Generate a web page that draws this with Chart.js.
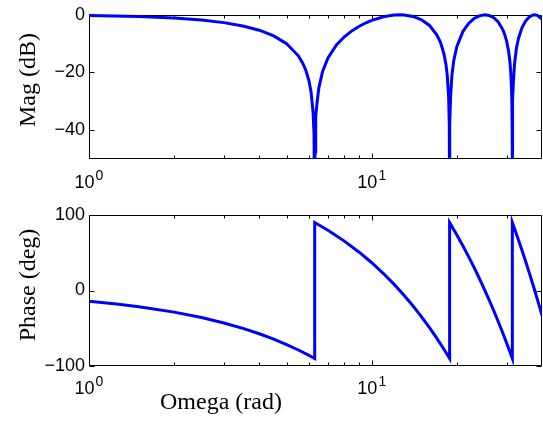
<!DOCTYPE html>
<html><head><meta charset="utf-8">
<script src="https://cdn.jsdelivr.net/npm/chart.js@4/dist/chart.umd.min.js"></script>
<style>
html,body{margin:0;padding:0;background:#fff;}
#wrap{position:relative;width:543px;height:421px;overflow:hidden;background:#fff;}
canvas{position:absolute;left:0;top:0;}
</style></head><body>
<div id="wrap"><canvas id="mag" width="543" height="421"></canvas><canvas id="phase" width="543" height="421"></canvas></div>
<script>
// ---- data ----
const magOmega = [1, 1.5, 2, 2.5, 3, 3.5, 4, 4.5, 5, 5.5, 5.7, 5.85, 6.0, 6.1, 6.2, 6.25, 6.27, 6.2832, 6.30, 6.32, 6.35, 6.4, 6.5, 6.7, 7, 7.5, 8, 8.5, 9, 9.5, 10, 11, 12, 12.566, 13, 14, 15, 16, 17, 17.5, 18, 18.3, 18.5, 18.7, 18.8, 18.83, 18.8496, 18.87, 18.9, 19, 19.2, 19.5, 20, 21, 22, 23, 24, 25.133, 26, 27, 28, 29, 29.5, 30, 30.5, 30.8, 31, 31.2, 31.3, 31.38, 31.416, 31.45, 31.55, 31.7, 32, 32.5, 33, 34, 35, 36, 37, 37.699, 38.5, 40];
const magDb = [-0.274, -0.626, -1.134, -1.820, -2.713, -3.863, -5.347, -7.307, -10.02, -14.22, -16.76, -19.32, -23.01, -26.79, -33.64, -41.62, -49.64, -80, -47.53, -40.72, -35.54, -30.69, -25.32, -19.66, -14.98, -10.47, -7.615, -5.575, -4.038, -2.852, -1.926, -0.684, -0.087, 0, -0.051, -0.570, -1.718, -3.693, -7.012, -9.568, -13.52, -17.26, -21.18, -28.55, -38.14, -46.22, -80, -45.83, -37.99, -28.49, -21.16, -15.82, -10.94, -5.813, -2.991, -1.298, -0.353, 0, -0.206, -0.983, -2.454, -4.942, -6.729, -9.202, -12.88, -16.27, -19.66, -25.36, -30.76, -40.93, -80, -41.39, -29.49, -22.98, -16.74, -11.44, -8.273, -4.408, -2.149, -0.808, -0.133, 0, -0.175, -1.524];
const phaseOmega = [1, 1.25, 1.5, 2, 2.5, 3, 3.5, 4, 4.5, 5, 5.5, 6, 6.2832, 6.2832, 7, 8, 9, 10, 11, 12, 13, 14, 15, 16, 17, 18, 18.8496, 18.8496, 20, 21, 22, 23, 24, 25, 26, 27, 28, 29, 30, 31, 31.416, 31.416, 32, 33, 34, 35, 36, 37, 38, 39, 40];
const phaseDeg = [-14.32, -17.90, -21.49, -28.65, -35.81, -42.97, -50.13, -57.30, -64.46, -71.62, -78.78, -85.94, -90, 90, 79.73, 65.41, 51.08, 36.76, 22.44, 8.11, -6.21, -20.53, -34.86, -49.18, -63.51, -77.83, -90, 90, 73.52, 59.20, 44.87, 30.55, 16.23, 1.90, -12.42, -26.75, -41.07, -55.39, -69.72, -84.04, -90, 90, 81.63, 67.31, 52.98, 38.66, 24.34, 10.01, -4.31, -18.63, -32.96];
const magTicks = [-40, -20, 0];
const phaseTicks = [-100, 0, 100];
const xMajorTicks = [1, 10];
const xTickBase = ['10', '10'];
const xTickExponents = ['0', '1'];
const xMinorTicks = [2, 3, 4, 5, 6, 7, 8, 9, 20, 30];
const magTitle = 'Mag (dB)';
const phaseTitle = 'Phase (deg)';
const xTitle = 'Omega (rad)';

const SANS = '"Liberation Sans", Arial, sans-serif';
const SERIF = '"Liberation Serif", "Times New Roman", serif';

const frame = {
  id: 'frame',
  beforeDatasetsDraw(chart, args, o) {
    const {ctx, chartArea: a, scales: {x, y}} = chart;
    ctx.save();
    ctx.strokeStyle = '#000';
    ctx.lineWidth = 1;
    const L = Math.round(a.left) + 0.5, R = Math.round(a.right) - 0.5;
    const T = Math.round(a.top) + 0.5, B = Math.round(a.bottom) - 0.5;
    ctx.beginPath();
    ctx.rect(L, T, R - L, B - T);
    xMajorTicks.forEach(v => {
      const px = Math.round(x.getPixelForValue(v)) + 0.5;
      ctx.moveTo(px, B); ctx.lineTo(px, B - 5);
      ctx.moveTo(px, T); ctx.lineTo(px, T + 5);
    });
    xMinorTicks.forEach(v => {
      const px = Math.round(x.getPixelForValue(v)) + 0.5;
      ctx.moveTo(px, B); ctx.lineTo(px, B - 3);
      ctx.moveTo(px, T); ctx.lineTo(px, T + 3);
    });
    o.yTicks.forEach(v => {
      const py = Math.round(y.getPixelForValue(v)) + 0.5;
      ctx.moveTo(L, py); ctx.lineTo(L + 5, py);
      ctx.moveTo(R, py); ctx.lineTo(R - 5, py);
    });
    ctx.stroke();

    // x tick labels with superscripts
    ctx.fillStyle = '#000';
    ctx.textAlign = 'left';
    ctx.textBaseline = 'alphabetic';
    const mainFont = '18px ' + SANS, supFont = '14px ' + SANS;
    xMajorTicks.forEach((v, i) => {
      const px = x.getPixelForValue(v);
      ctx.font = mainFont; const w1 = ctx.measureText(xTickBase[i]).width;
      ctx.font = supFont; const w2 = ctx.measureText(xTickExponents[i]).width;
      const start = px - (w1 + w2 + 1) / 2;
      const base = a.bottom + o.xLabelOffset;
      ctx.font = mainFont; ctx.fillText(xTickBase[i], start, base);
      ctx.font = supFont; ctx.fillText(xTickExponents[i], start + w1 + 1, base - 8);
    });

    // y title
    ctx.font = '24px ' + SERIF;
    ctx.save();
    ctx.translate(35, o.titleY);
    ctx.rotate(-Math.PI / 2);
    ctx.textAlign = 'center';
    ctx.fillText(o.title, 0, 0);
    ctx.restore();

    if (o.xTitle) {
      ctx.textAlign = 'center';
      ctx.fillText(o.xTitle, 221, 409);
    }
    ctx.restore();
  }
};

function makeChart(id, xs, ys, ticks, ymin, ymax, pad, opts) {
  return new Chart(document.getElementById(id), {
    type: 'line',
    data: {
      datasets: [{
        data: xs.map((w, i) => ({x: w, y: ys[i]})),
        borderColor: '#0000ff',
        borderWidth: 3,
        pointRadius: 0,
        fill: false,
        tension: 0,
        clip: {left: 0, right: 0, top: 3, bottom: 0}
      }]
    },
    options: {
      responsive: false,
      animation: false,
      events: [],
      layout: {padding: pad},
      plugins: {legend: {display: false}, tooltip: {enabled: false}, frame: opts},
      scales: {
        x: {type: 'logarithmic', min: 1, max: 40, display: false},
        y: {
          type: 'linear', min: ymin, max: ymax,
          grid: {display: false, drawTicks: false},
          border: {display: false},
          afterBuildTicks: s => { s.ticks = ticks.map(v => ({value: v})); },
          afterFit: s => { s.width = 89; },
          ticks: {
            color: '#000', padding: 4, autoSkip: false,
            font: {family: SANS, size: 18},
            callback: v => String(v).replace('-', '\u2212')
          }
        }
      }
    },
    plugins: [frame]
  });
}

makeChart('mag', magOmega, magDb, magTicks, -50, 0,
  {left: 0, right: 1, top: 9, bottom: 262},
  {yTicks: magTicks, title: magTitle, titleY: 80, xLabelOffset: 29});
makeChart('phase', phaseOmega, phaseDeg, phaseTicks, -100, 100,
  {left: 0, right: 1, top: 215, bottom: 55},
  {yTicks: phaseTicks, title: phaseTitle, titleY: 285, xLabelOffset: 28, xTitle: xTitle});
</script>
</body></html>
